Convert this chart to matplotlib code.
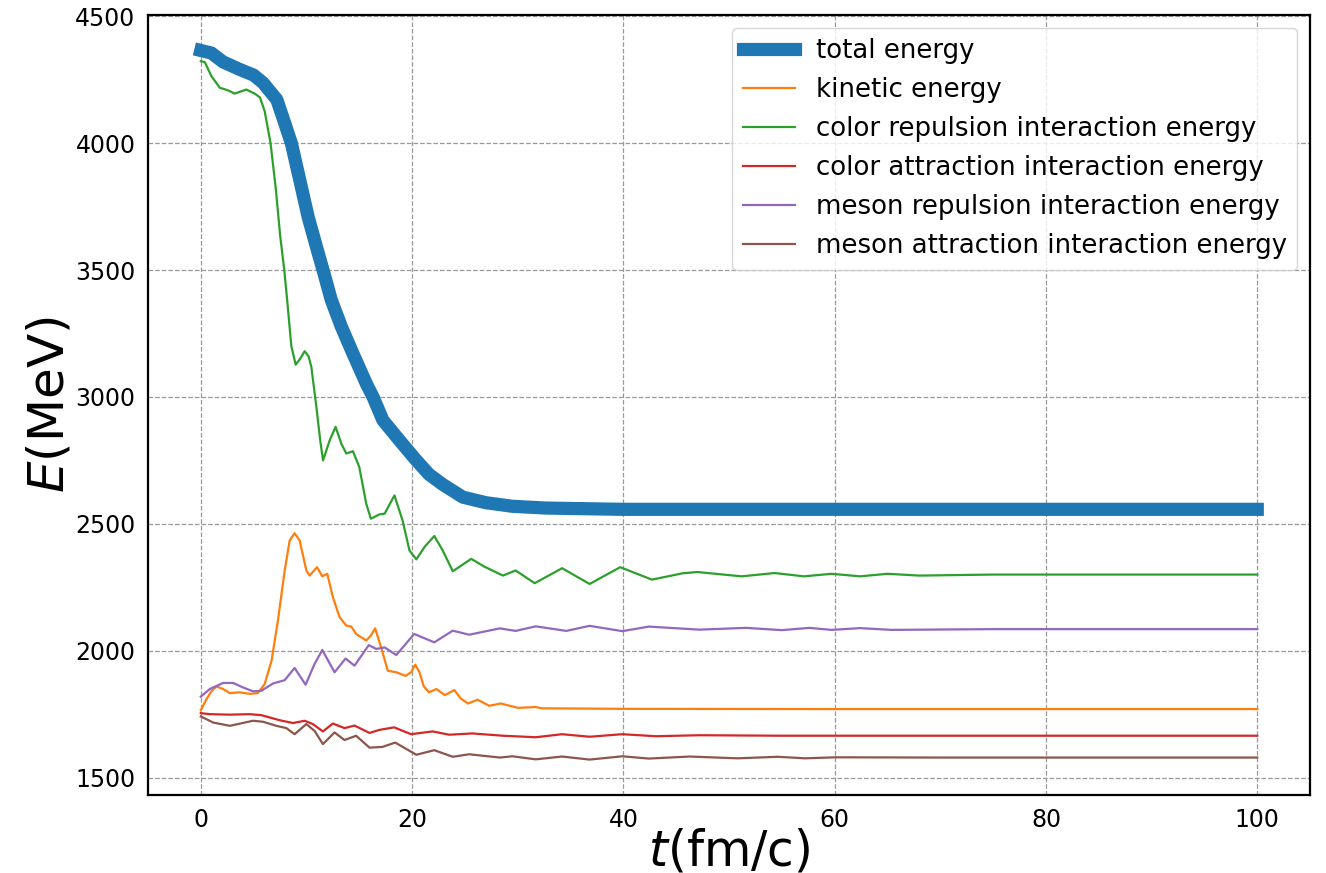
import matplotlib
matplotlib.use("Agg")
import matplotlib.pyplot as plt

# Energy components vs time (t in fm/c, E in MeV)
t_total = [0, 1.0, 2.1, 3.7, 5.0, 5.9, 7.2, 7.94, 8.57, 9.36, 10.15, 10.94, 11.57, 12.35,
           13.3, 14.4, 15.66, 16.3, 17.24, 18.8, 20.4, 21.6, 22.9, 24.8, 27.0, 29.5, 32.7,
           40, 60, 80, 100]
e_total = [4365, 4355, 4320, 4290, 4268, 4237, 4171, 4079, 4000, 3856, 3711, 3592, 3500, 3382,
           3277, 3171, 3053, 3000, 2908, 2829, 2750, 2695, 2655, 2605, 2583, 2569, 2562,
           2557, 2557, 2557, 2557]

t_kin = [0, 0.54, 1.0, 1.48, 2.11, 2.74, 3.69, 4.63, 5.4, 6.05, 6.7, 7.3, 7.94, 8.41, 8.88,
         9.36, 9.99, 10.3, 11.0, 11.5, 11.97, 12.5, 13.14, 13.77, 14.24, 14.7, 15.66, 16.1,
         16.5, 17.07, 17.7, 18.5, 19.4, 19.9, 20.3, 20.7, 21.1, 21.6, 22.3, 23.1, 24.0, 24.6,
         25.3, 26.2, 27.3, 28.4, 30.0, 31.7, 32.3, 40, 60, 80, 100]
e_kin = [1766, 1809, 1840, 1859, 1849, 1833, 1836, 1830, 1833, 1869, 1961, 2119, 2316, 2434, 2463,
         2434, 2316, 2296, 2329, 2293, 2303, 2211, 2132, 2099, 2095, 2066, 2040, 2060,
         2088, 2013, 1921, 1915, 1901, 1915, 1945, 1915, 1860, 1836, 1849, 1825, 1845, 1812,
         1792, 1807, 1783, 1792, 1775, 1778, 1773, 1771, 1770, 1770, 1770]

t_crep = [0, 0.38, 1.0, 1.8, 2.58, 3.2, 4.3, 5.1, 5.6, 6.05, 6.6, 7.1, 7.5, 7.9, 8.2, 8.57,
          8.98, 9.4, 9.83, 10.2, 10.46, 10.94, 11.3, 11.57, 12.2, 12.76, 13.3, 13.77, 14.4,
          15.0, 15.66, 16.1, 16.9, 17.4, 18.33, 19.1, 19.75, 20.4, 21.2, 22.1, 22.9, 23.85,
          25.6, 26.8, 28.6, 29.8, 31.6, 34.2, 36.8, 39.7, 42.7, 45.6, 47.0, 51.2, 54.3, 57.1,
          59.7, 62.4, 65.0, 68.0, 75, 85, 100]
e_crep = [4323, 4319, 4264, 4218, 4208, 4195, 4211, 4195, 4180, 4125, 4000, 3820, 3640, 3500,
          3370, 3200, 3127, 3150, 3180, 3160, 3119, 2960, 2830, 2750, 2829, 2882, 2816, 2777,
          2786, 2724, 2579, 2520, 2537, 2540, 2612, 2513, 2395, 2360, 2410, 2452, 2395, 2313,
          2362, 2332, 2296, 2316, 2266, 2325, 2263, 2329, 2280, 2305, 2310, 2293, 2306, 2293,
          2303, 2293, 2303, 2296, 2300, 2300, 2300]

t_catt = [0, 0.85, 2.74, 4.63, 5.73, 7.47, 8.73, 9.83, 10.6, 11.56, 12.5, 13.6, 14.55, 15.97,
          16.9, 18.3, 19.9, 21.95, 23.5, 25.7, 28.6, 31.7, 34.2, 36.8, 39.9, 43.1, 47.2, 55,
          65, 80, 100]
e_catt = [1754, 1750, 1748, 1750, 1746, 1726, 1715, 1724, 1711, 1682, 1713, 1695, 1705, 1676,
          1688, 1698, 1671, 1682, 1669, 1674, 1665, 1659, 1671, 1661, 1671, 1663, 1667, 1665,
          1665, 1665, 1665]

t_mrep = [0, 0.85, 2.11, 3.06, 4.0, 4.95, 5.73, 6.84, 7.94, 8.88, 9.92, 10.77, 11.5, 12.66,
          13.7, 14.55, 15.9, 16.6, 17.4, 18.5, 20.2, 22.1, 23.85, 25.4, 28.3, 29.8, 31.7,
          34.6, 36.8, 39.9, 42.4, 47.2, 51.6, 55, 57.6, 59.7, 62.4, 65.4, 75, 85, 100]
e_mrep = [1819, 1849, 1873, 1873, 1855, 1840, 1842, 1871, 1884, 1932, 1866, 1948, 2003, 1915,
          1969, 1941, 2022, 2007, 2013, 1983, 2066, 2033, 2079, 2063, 2088, 2078, 2096,
          2078, 2098, 2077, 2095, 2083, 2090, 2081, 2090, 2082, 2089, 2082, 2085, 2085, 2085]

t_matt = [0, 1.17, 2.74, 4.95, 5.9, 7.15, 8.1, 8.88, 9.99, 10.77, 11.56, 12.66, 13.6, 14.7,
          15.97, 17.2, 18.4, 20.4, 22.1, 23.85, 25.4, 28.3, 29.5, 31.7, 34.2, 36.8, 39.9,
          42.4, 46.3, 50.8, 54.6, 57.2, 60.1, 70, 85, 100]
e_matt = [1741, 1717, 1704, 1724, 1720, 1704, 1695, 1671, 1711, 1684, 1632, 1678, 1648, 1665,
          1618, 1621, 1638, 1590, 1608, 1582, 1592, 1579, 1584, 1572, 1583, 1571, 1584,
          1575, 1583, 1576, 1582, 1576, 1580, 1579, 1579, 1579]

labels = ["total energy", "kinetic energy", "color repulsion interaction energy",
          "color attraction interaction energy", "meson repulsion interaction energy",
          "meson attraction interaction energy"]

fig = plt.figure(figsize=(13.26, 8.73), dpi=100)
ax = fig.add_axes([0.1116, 0.0893, 0.8764, 0.8935])

ax.plot(t_total, e_total, color="#1f77b4", lw=9.5, label=labels[0])
ax.plot(t_kin, e_kin, color="#ff7f0e", lw=1.6, label=labels[1])
ax.plot(t_crep, e_crep, color="#2ca02c", lw=1.6, label=labels[2])
ax.plot(t_catt, e_catt, color="#d62728", lw=1.6, label=labels[3])
ax.plot(t_mrep, e_mrep, color="#9467bd", lw=1.6, label=labels[4])
ax.plot(t_matt, e_matt, color="#8c564b", lw=1.6, label=labels[5])

ax.grid(True, linestyle="--", color="#999999", lw=0.9)
ax.set_axisbelow(True)
for s in ax.spines.values():
    s.set_linewidth(1.6)
    s.set_color("black")
ax.tick_params(length=0, labelsize=17, pad=9)
ax.set_xticks([0, 20, 40, 60, 80, 100])
ax.set_yticks([1500, 2000, 2500, 3000, 3500, 4000, 4500])

ax.set_xlabel("$t$(fm/c)", fontsize=35, labelpad=-3)
ax.set_ylabel("$E$(MeV)", fontsize=36, labelpad=1)

ax.legend(loc="upper right", fontsize=18.7, framealpha=0.8, borderaxespad=0.5,
          handlelength=2.0)

fig.savefig("out.png", dpi=100)
